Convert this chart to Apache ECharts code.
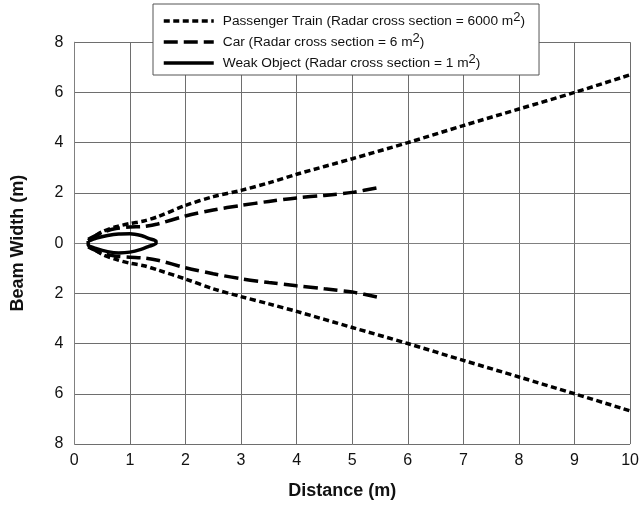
<!DOCTYPE html>
<html><head><meta charset="utf-8">
<script src="https://cdn.jsdelivr.net/npm/echarts@6/dist/echarts.min.js"></script>
<style>html,body{margin:0;padding:0;background:#fff}#c{width:642px;height:505px}</style>
</head><body><div id="c"></div><script>
// Data
const trainName = 'Passenger Train (Radar cross section = 6000 m2)';
const carName = 'Car (Radar cross section = 6 m2)';
const weakName = 'Weak Object (Radar cross section = 1 m2)';

const trainX = [0.25, 0.5, 0.75, 1, 1.25, 1.5, 2, 2.5, 3, 3.5, 4, 5, 6, 7, 8, 9, 10];
const trainTop = [0.1, 0.45, 0.65, 0.78, 0.88, 1.05, 1.5, 1.85, 2.1, 2.4, 2.74, 3.36, 4.0, 4.68, 5.34, 6.0, 6.7];
const trainBottom = [-0.1, -0.45, -0.65, -0.8, -0.9, -1.07, -1.43, -1.82, -2.13, -2.42, -2.72, -3.36, -4.0, -4.67, -5.33, -6.0, -6.68];

const carX = [0.25, 0.5, 0.75, 1, 1.25, 1.5, 2, 2.5, 3, 3.5, 4, 4.5, 5, 5.5];
const carTop = [0.15, 0.42, 0.58, 0.64, 0.66, 0.76, 1.08, 1.32, 1.5, 1.66, 1.8, 1.9, 2.02, 2.22];
const carBottom = [-0.15, -0.4, -0.52, -0.56, -0.59, -0.68, -0.98, -1.22, -1.42, -1.57, -1.7, -1.82, -1.95, -2.17];

const weakX = [0.25, 0.4, 0.6, 0.8, 1.0, 1.2, 1.35, 1.47, 1.47, 1.35, 1.2, 1.0, 0.8, 0.6, 0.4, 0.25, 0.25];
const weakY = [0.08, 0.2, 0.3, 0.36, 0.37, 0.3, 0.18, 0.08, -0.02, -0.12, -0.25, -0.36, -0.39, -0.34, -0.22, -0.08, 0.08];

const xMin = 0, xMax = 10, xStep = 1;
const yMin = -8, yMax = 8, yStep = 2;

const pair = (xs, ys) => xs.map((x, i) => [x, ys[i]]);
const font = 'Liberation Sans, Arial, Helvetica, sans-serif';

const trainStyle = { color: '#000', width: 3.5, type: [6, 3.5] };
const carStyle = { color: '#000', width: 3.5, type: [14, 6] };
const weakStyle = { color: '#000', width: 3.5, type: 'solid' };

function mk(name, data, ls, smooth) {
  return {
    name: name, type: 'line', data: data, symbol: 'none', showSymbol: false,
    smooth: smooth, lineStyle: ls, itemStyle: { color: '#000' },
    silent: true, animation: false
  };
}

const chart = echarts.init(document.getElementById('c'), null, { renderer: 'canvas' });
chart.setOption({
  animation: false,
  backgroundColor: '#fff',
  textStyle: { fontFamily: font },
  grid: { left: 74.3, right: 9.7, top: 42.2, bottom: 58.3, containLabel: false },
  legend: {
    data: [trainName, carName, weakName],
    orient: 'vertical',
    left: 153, top: 4,
    padding: [7, 14, 5, 9],
    itemWidth: 50, itemHeight: 14, itemGap: 4,
    backgroundColor: '#fff',
    borderColor: '#555', borderWidth: 1, borderRadius: 0,
    selectedMode: false,
    itemStyle: { opacity: 0 },
    lineStyle: { width: 3.5, color: '#000' },
    formatter: function (n) { return n.replace('m2)', 'm{sup|2})'); },
    textStyle: {
      fontFamily: font, fontSize: 13.7, color: '#111', padding: [0, 0, 0, 4],
      rich: { sup: { fontFamily: font, fontSize: 13, color: '#111', padding: [0, 0, 7, 0] } }
    }
  },
  xAxis: {
    type: 'value', min: xMin, max: xMax, interval: xStep,
    name: 'Distance (m)', nameLocation: 'middle', nameGap: 38,
    nameTextStyle: { fontFamily: font, fontSize: 18, fontWeight: 'bold', color: '#111', padding: [0, 20, 0, 0] },
    axisLine: { show: true, lineStyle: { color: '#808080', width: 1 } },
    axisTick: { show: false },
    axisLabel: { fontFamily: font, fontSize: 16, color: '#111', margin: 9 },
    splitLine: { show: true, lineStyle: { color: '#6e6e6e', width: 1 } }
  },
  yAxis: {
    type: 'value', min: yMin, max: yMax, interval: yStep,
    name: 'Beam Width (m)', nameLocation: 'middle', nameGap: 47,
    nameTextStyle: { fontFamily: font, fontSize: 18, fontWeight: 'bold', color: '#111' },
    axisLine: { show: true, lineStyle: { color: '#808080', width: 1 } },
    axisTick: { show: false },
    axisLabel: { fontFamily: font, fontSize: 16, color: '#111', margin: 11,
      formatter: function (v) { return String(Math.abs(v)); } },
    splitLine: { show: true, lineStyle: { color: '#6e6e6e', width: 1 } }
  },
  series: [
    mk(trainName, pair(trainX, trainTop), trainStyle, 0.3),
    mk(trainName, pair(trainX, trainBottom), trainStyle, 0.3),
    mk(carName, pair(carX, carTop), carStyle, 0.3),
    mk(carName, pair(carX, carBottom), carStyle, 0.3),
    mk(weakName, pair(weakX, weakY), weakStyle, 0.25)
  ]
});
</script></body></html>
